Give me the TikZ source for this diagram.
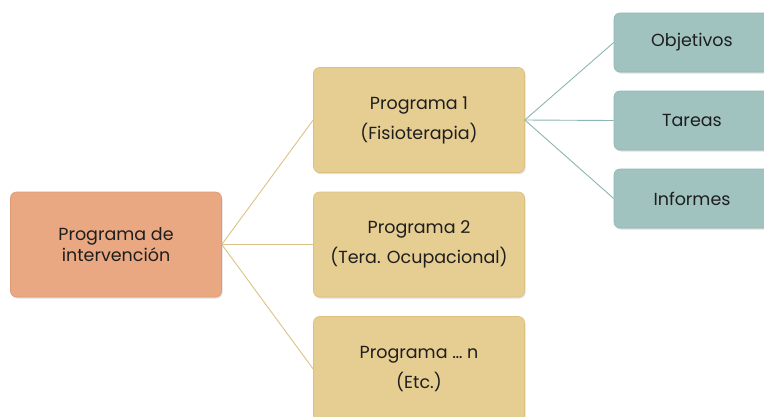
\documentclass[tikz,border=0pt]{standalone}
\usepackage{fontspec}
\setmainfont{Poppins}
\usetikzlibrary{shadows}
\definecolor{rootfill}{HTML}{E9A882}
\definecolor{rootdraw}{HTML}{E09A72}
\definecolor{progfill}{HTML}{E6CD91}
\definecolor{progdraw}{HTML}{DCC07C}
\definecolor{tealfill}{HTML}{A0C3C0}
\definecolor{tealdraw}{HTML}{8FB5B2}
\definecolor{tanline}{HTML}{DCC286}
\definecolor{tealline}{HTML}{8DB5B1}
\definecolor{txt}{HTML}{1E1E1E}
\tikzset{
  box/.style={rounded corners=6pt, minimum width=211pt, align=center, text=txt,
    font=\fontsize{17.5}{21}\selectfont, inner sep=0pt,
    drop shadow={shadow xshift=1pt, shadow yshift=-1.5pt, opacity=0.25}},
  rootbox/.style={box, fill=rootfill, draw=rootdraw, line width=0.6pt, minimum height=105pt},
  progbox/.style={box, fill=progfill, draw=progdraw, line width=0.6pt, minimum height=105pt},
  tealbox/.style={box, fill=tealfill, draw=tealdraw, line width=0.6pt, minimum height=59pt, minimum width=156pt},
  tanlink/.style={draw=tanline, line width=0.9pt},
  teallink/.style={draw=tealline, line width=0.9pt},
}
\begin{document}
\begin{tikzpicture}[x=1pt,y=-1pt]
\useasboundingbox (0,0) rectangle (764,416);
\node[rootbox] (root) at (116,244.5) {Programa de\\intervención};
\node[progbox] (p1) at (419,120) {Programa 1\\[8pt](Fisioterapia)};
\node[progbox] (p2) at (419,244.5) {Programa 2\\[8pt](Tera. Ocupacional)};
\node[progbox] (p3) at (419,369) {Programa … n\\[8pt](Etc.)};
\node[tealbox] (t1) at (692,42.5) {Objetivos};
\node[tealbox] (t2) at (692,120.5) {Tareas};
\node[tealbox] (t3) at (692,198.5) {Informes};
\foreach \p in {p1,p2,p3} \draw[tanlink] (root.east) -- (\p.west);
\foreach \t in {t1,t2,t3} \draw[teallink] (p1.east) -- (\t.west);
\end{tikzpicture}
\end{document}
